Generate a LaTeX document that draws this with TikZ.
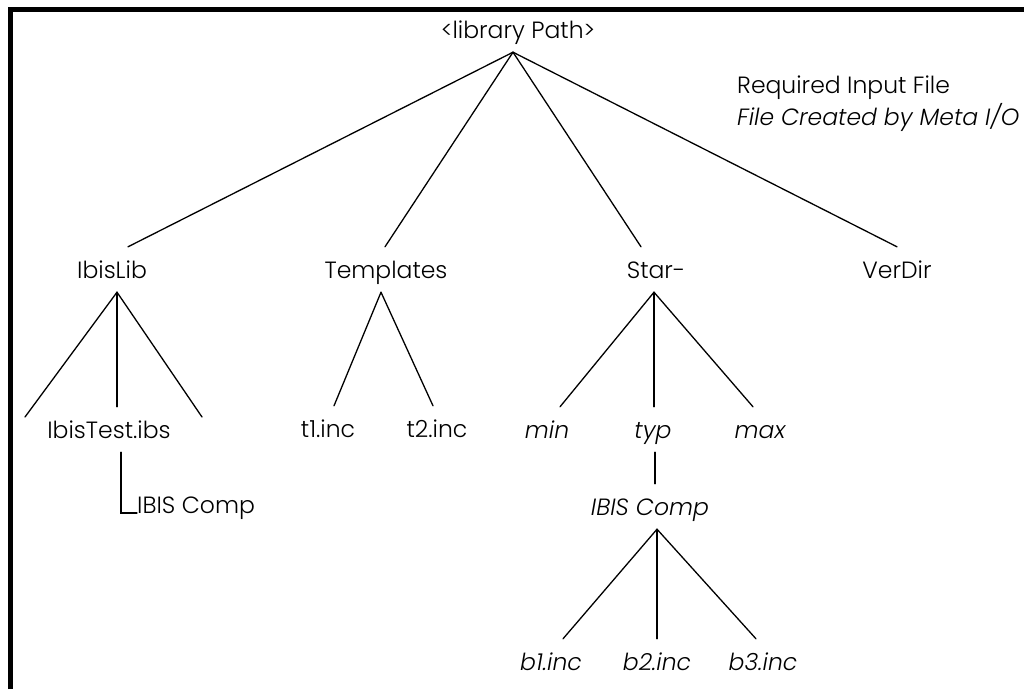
\documentclass[tikz,border=0pt]{standalone}
\usepackage{fontspec}
\IfFontExistsTF{Poppins Light}{\setmainfont{Poppins Light}[ItalicFont={Poppins Light Italic}]}{\setmainfont{Poppins}}
\begin{document}
\begin{tikzpicture}[x=1pt,y=-1pt]
\newcommand{\fs}{\fontsize{23.5}{28}\selectfont}
\tikzset{
  lbl/.style={font=\fs, text height=17pt, text depth=0pt, inner xsep=0pt, inner ysep=14pt, anchor=base},
  itlbl/.style={lbl, font=\fs\itshape},
  conn/.style={line width=1.3pt, line cap=round},
  frame/.style={line width=5pt, line join=miter}
}
\useasboundingbox (0,0) rectangle (1024,689);
\fill[white] (0,0) rectangle (1024,689);
\draw[frame] (10.5,689) -- (10.5,9.5) -- (1024,9.5);

\node[lbl] (root) at (518,38) {<library Path>};
\node[lbl] (ibislib) at (112,278) {IbisLib};
\node[lbl] (templates) at (386,278) {Templates};
\node[lbl] (star) at (656,278) {Star-};
\node[lbl] (verdir) at (897,278) {VerDir};
\node[lbl] (ibistest) at (109,438) {IbisTest.ibs};
\node[lbl] (t1) at (328,437) {t1.inc};
\node[lbl] (t2) at (437,437) {t2.inc};
\node[itlbl] (min) at (547,438) {min};
\node[itlbl] (typ) at (653,438) {typ};
\node[itlbl] (max) at (760,438) {max};
\node[lbl, anchor=base west] (compa) at (137,513) {IBIS Comp};
\node[itlbl] (compb) at (650,515) {IBIS Comp};
\node[itlbl] (b1) at (551,670) {b1.inc};
\node[itlbl] (b2) at (657,670) {b2.inc};
\node[itlbl] (b3) at (763,670) {b3.inc};
\node[lbl, anchor=base west] (req) at (737,93) {Required Input File};
\node[itlbl, anchor=base west] (created) at (737,125) {File Created by Meta I/O};

\coordinate (ibleft) at (25,417);
\coordinate (ibright) at (202,417);

\draw[conn] ([xshift=-5pt]root.south) -- ([xshift=16pt]ibislib.north);
\draw[conn] ([xshift=-5pt]root.south) -- ([xshift=-1pt]templates.north);
\draw[conn] ([xshift=-5pt]root.south) -- ([xshift=-15pt]star.north);
\draw[conn] ([xshift=-5pt]root.south) -- (verdir.north);

\draw[conn] ([xshift=5pt]ibislib.south) -- (ibleft);
\draw[conn] ([xshift=5pt]ibislib.south) -- ([xshift=8pt]ibistest.north);
\draw[conn] ([xshift=5pt]ibislib.south) -- (ibright);
\draw[conn] ([xshift=12pt]ibistest.south) |- (compa.base west);

\draw[conn] ([xshift=-5pt]templates.south) -- ([xshift=6pt]t1.north);
\draw[conn] ([xshift=-5pt]templates.south) -- ([xshift=-4pt]t2.north);

\draw[conn] ([xshift=-2pt]star.south) -- ([xshift=13pt]min.north);
\draw[conn] ([xshift=-2pt]star.south) -- ([xshift=1pt]typ.north);
\draw[conn] ([xshift=-2pt]star.south) -- ([xshift=-7pt]max.north);

\draw[conn] ([xshift=2pt]typ.south) -- ([xshift=5pt]compb.north);

\draw[conn] ([xshift=7pt]compb.south) -- ([xshift=12pt]b1.north);
\draw[conn] ([xshift=7pt]compb.south) -- (b2.north);
\draw[conn] ([xshift=7pt]compb.south) -- ([xshift=-7pt]b3.north);
\end{tikzpicture}
\end{document}
